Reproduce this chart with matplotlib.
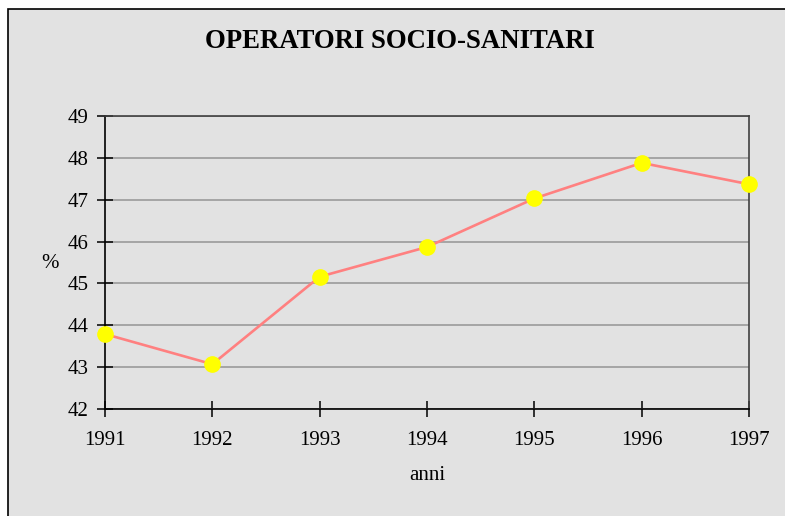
"""Operatori socio-sanitari, quota percentuale 1991-1997"""

import matplotlib
matplotlib.use('Agg')
import matplotlib.pyplot as plt
from matplotlib.patches import Rectangle

anni = [1991, 1992, 1993, 1994, 1995, 1996, 1997]
quota = [43.79, 43.07, 45.16, 45.87, 47.03, 47.88, 47.37]

BG = '#e2e2e2'
SERIF = ['Liberation Serif', 'DejaVu Serif']
W, H = 785, 516

fig = plt.figure(figsize=(W / 100, H / 100), dpi=100)
fig.patch.set_facecolor('white')

# cornice grigia del grafico (tagliata a destra e in basso)
fig.patches.append(Rectangle((8 / W, -0.05), 1.2, 1 - 9 / H + 0.05, transform=fig.transFigure,
                             facecolor=BG, edgecolor='black', linewidth=1.2, zorder=-1))

ax = fig.add_axes([105 / W, 1 - 409 / H, (749 - 105) / W, (409 - 116) / H])
ax.set_zorder(1)
ax.set_facecolor(BG)
ax.plot(anni, quota, color='#ff8080', linewidth=1.9, marker='o', markersize=11,
        markerfacecolor='#ffff00', markeredgecolor='#ffff00', zorder=3, clip_on=False)

ax.set_xlim(1991, 1997)
ax.set_ylim(42, 49)
ax.set_xticks(anni)
ax.set_yticks(range(42, 50))
ax.grid(axis='y', color='#a0a0a0', linewidth=1.3)
ax.set_axisbelow(True)
ax.tick_params(direction='inout', length=12, width=1.1, color='black', labelsize=15)
ax.tick_params(axis='x', pad=10)
ax.tick_params(axis='y', pad=6)
for lab in ax.get_xticklabels() + ax.get_yticklabels():
    lab.set_family(SERIF)
for side in ('left', 'bottom'):
    ax.spines[side].set_color('black')
    ax.spines[side].set_linewidth(1.2)
for side in ('top', 'right'):
    ax.spines[side].set_color('#404040')
    ax.spines[side].set_linewidth(1.2)

fig.text(400 / W, 1 - 42 / H, 'OPERATORI SOCIO-SANITARI', ha='center', va='center',
         family=SERIF, fontweight='bold', fontsize=19.3)
fig.text(50 / W, 1 - 263 / H, '%', ha='center', va='center', family=SERIF, fontsize=15)
fig.text(427 / W, 1 - 476 / H, 'anni', ha='center', va='center', family=SERIF, fontsize=15)

fig.savefig('out.png', dpi=100, facecolor=fig.get_facecolor())
